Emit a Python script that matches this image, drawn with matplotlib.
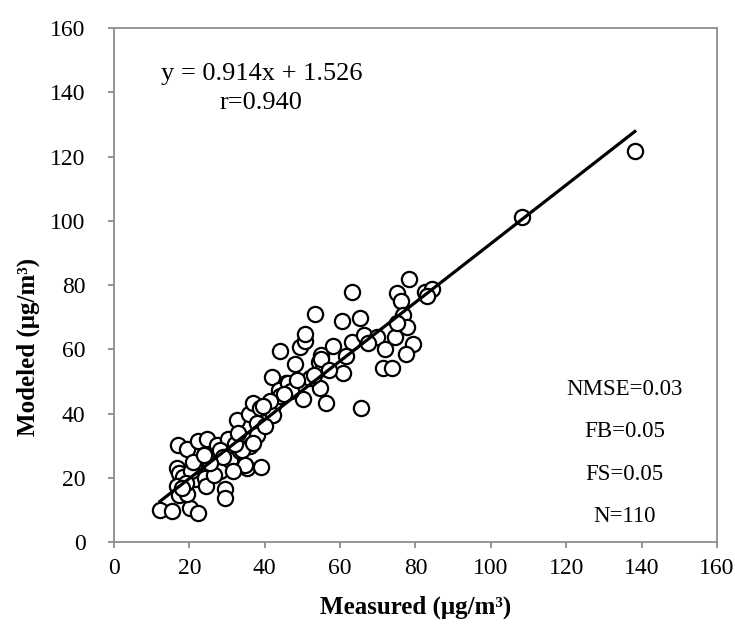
import numpy as np
import matplotlib
matplotlib.use("Agg")
import matplotlib.pyplot as plt

# measured vs modeled concentrations (ug/m3)
measured = [12.2, 15.4, 20.2, 22.3, 29.4, 29.4, 17.0, 19.4, 22.3, 24.7,
            16.7, 17.2, 18.3, 16.7, 17.2, 19.4, 21.5, 24.1, 24.4, 22.8,
            26.0, 27.3, 28.1, 30.8, 33.4, 36.1, 35.3, 39.0, 32.6, 35.8,
            37.9, 27.3, 30.2, 34.0, 28.1, 34.7, 23.6, 20.5, 19.0, 26.5,
            31.5, 29.0, 32.0, 38.0, 37.0, 25.5, 21.0, 18.0, 24.0, 33.0,
            36.9, 38.7, 42.2, 42.2, 45.6, 50.1, 41.9, 43.8, 46.2, 44.0,
            48.0, 49.3, 50.7, 50.7, 53.3, 54.9, 54.4, 55.4, 54.6, 56.2,
            58.1, 60.5, 60.7, 63.1, 55.0, 47.0, 40.0, 44.0, 41.5, 52.0,
            57.0, 45.0, 39.5, 53.0, 48.5,
            63.1, 65.3, 65.5, 66.3, 69.8, 71.4, 73.7, 74.5, 75.1, 76.1,
            76.7, 77.7, 78.2, 79.3, 77.5, 82.5, 84.4, 75.0, 83.0, 67.5,
            61.5, 72.0,
            108.2, 138.2]
modeled = [10.0, 9.6, 10.6, 9.1, 16.5, 13.7, 30.2, 29.0, 31.4, 32.0,
           23.0, 21.5, 20.2, 17.4, 14.6, 14.9, 19.6, 19.9, 17.4, 24.6,
           24.9, 28.3, 22.1, 25.5, 28.3, 29.9, 23.0, 23.3, 38.0, 39.8,
           37.0, 30.2, 32.1, 28.6, 28.6, 24.0, 26.1, 22.0, 18.5, 21.0,
           22.0, 26.5, 30.5, 33.5, 31.0, 24.6, 25.0, 17.0, 27.0, 34.0,
           43.3, 41.7, 42.6, 39.5, 49.5, 44.5, 51.4, 47.3, 49.5, 59.5,
           55.4, 60.7, 62.6, 64.7, 71.0, 58.2, 56.0, 54.2, 47.9, 43.3,
           61.0, 68.8, 52.6, 62.3, 57.0, 47.0, 36.0, 45.5, 44.0, 51.0,
           53.5, 46.0, 42.5, 52.0, 50.5,
           77.8, 69.7, 41.7, 64.4, 63.8, 54.2, 54.2, 63.8, 77.5, 75.0,
           70.7, 66.9, 81.9, 61.6, 58.5, 77.8, 78.7, 68.2, 76.5, 62.0,
           58.0, 60.0,
           101.2, 121.7]

slope, intercept = 0.914, 1.526
r_value = 0.940
stats = ["NMSE=0.03", "FB=0.05", "FS=0.05", "N=110"]

plt.rcParams['font.family'] = ['Liberation Serif', 'DejaVu Serif']

fig = plt.figure(figsize=(7.35, 6.26), dpi=100)
ax = fig.add_axes([0.155, 0.134, 0.8205, 0.821])

ax.scatter(measured, modeled, s=120, facecolors='white', edgecolors='black',
           linewidths=1.6, zorder=3)
xl = np.array([min(measured), max(measured)])
ax.plot(xl, slope * xl + intercept, color='black', lw=2.3, zorder=4)

ax.set_xlim(0, 160)
ax.set_ylim(0, 160)
ax.set_xticks(range(0, 161, 20))
ax.set_yticks(range(0, 161, 20))
for s in ax.spines.values():
    s.set_color('#8c8c8c')
    s.set_linewidth(1.3)
ax.tick_params(direction='out', length=4.5, width=1.3, color='#8c8c8c',
               labelsize=17)
ax.tick_params(axis='x', pad=7)
ax.tick_params(axis='y', pad=16)

ax.set_xlabel('Measured (μg/m³)', fontsize=18, fontweight='bold', labelpad=12)
ax.set_ylabel('Modeled (μg/m³)', fontsize=18, fontweight='bold')
ax.yaxis.set_label_coords(-0.123, 0.38)

ax.text(39.1, 145.7, f"y = {slope:.3f}x + {intercept:.3f}", fontsize=19,
        ha='center', va='center')
ax.text(39.1, 136.7, f"r={r_value:.3f}", fontsize=19, ha='center', va='center')

for i, t in enumerate(stats):
    ax.text(135.5, 47.6 - i * 13.2, t, fontsize=16.5, ha='center', va='center')

fig.savefig("out.png", dpi=100)
